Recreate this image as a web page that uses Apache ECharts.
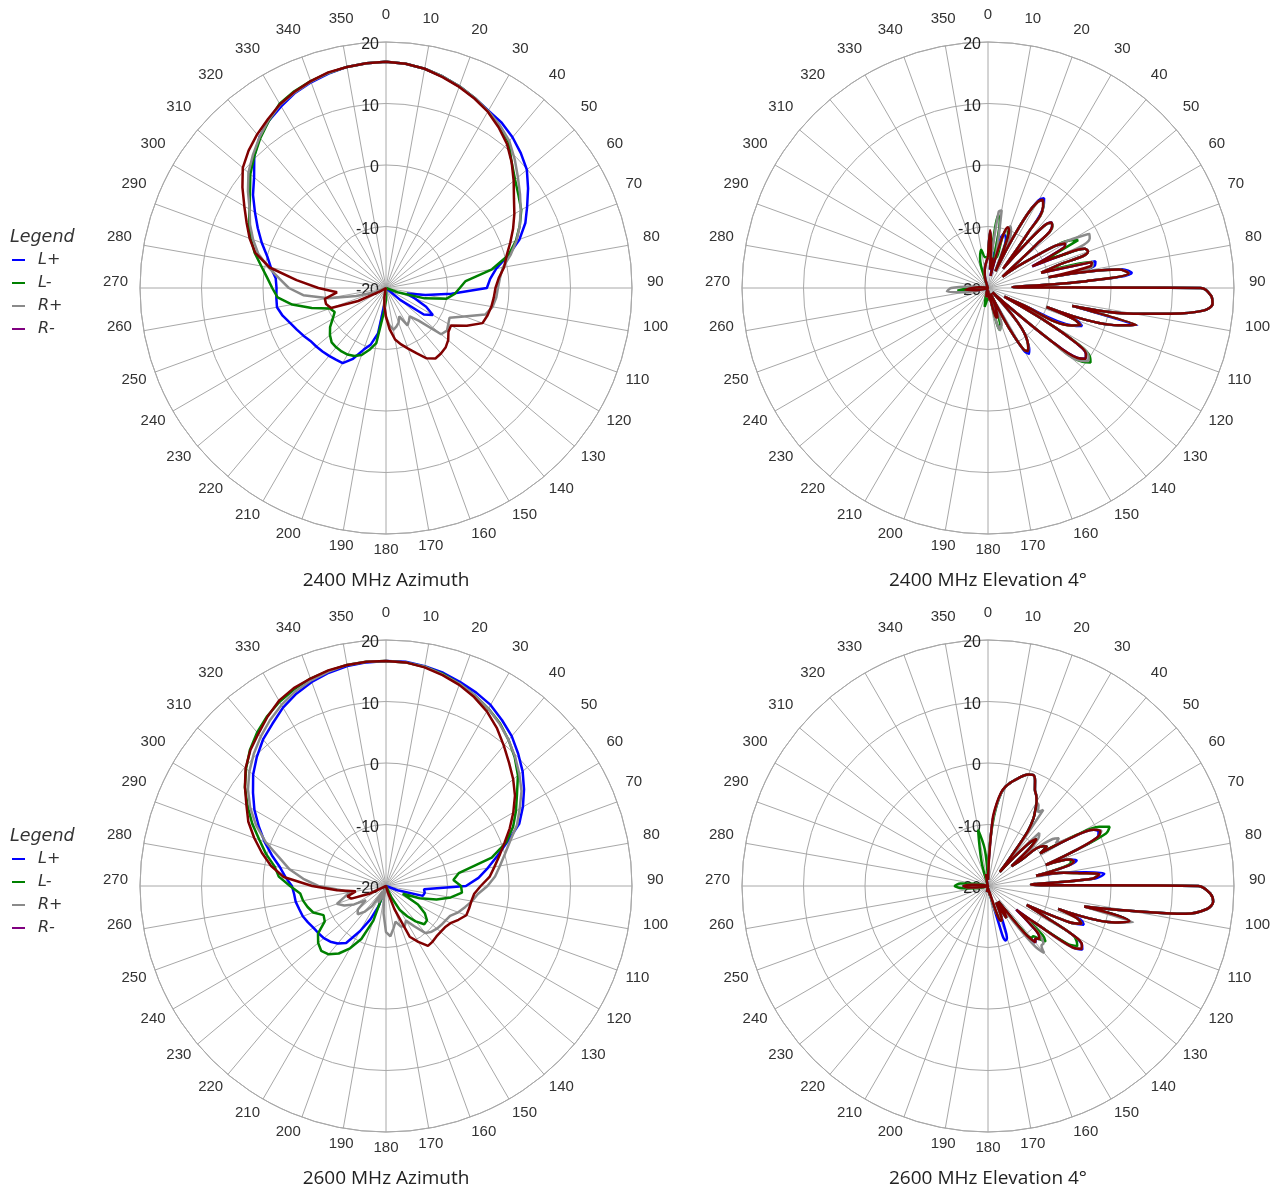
<!DOCTYPE html>
<html>
<head>
<meta charset="utf-8">
<script src="https://cdn.jsdelivr.net/npm/echarts@6/dist/echarts.min.js"></script>
<style>html,body{margin:0;padding:0;background:#fff}#c{width:1284px;height:1191px}</style>
</head>
<body>
<div id="c"></div>
<script>
// ---- series names / titles ----
const seriesNames = ['L+', 'L-', 'R+', 'R-'];
const chartTitles = ['2400 MHz Azimuth', '2400 MHz Elevation 4°', '2600 MHz Azimuth', '2600 MHz Elevation 4°'];
const radiusTicks = [-20, -10, 0, 10, 20];

// ---- angle grids (degrees) ----
const azAngles = [0,5,10,15,20,25,30,35,40,45,50,55,60,65,70,75,80,85,90,95,100,105,110,115,120,125,130,135,140,145,150,155,160,165,170,175,
  180,185,190,195,200,205,210,215,220,225,230,235,240,245,250,255,260,265,270,275,280,285,290,295,300,305,310,315,320,325,330,335,340,345,350,355];

const elAngles = [0,2,4,6,8,10,12,14,16,18,20,22,24,26,28,30,32,34,36,38,40,42,44,46,48,50,52,54,56,58,60,62,64,66,68,70,72,74,76,78,80,82,84,86,88,
  90,92,94,96,98,100,102,104,106,108,110,112,114,116,118,120,122,124,126,128,130,132,134,136,138,140,142,144,146,148,150,152,154,156,158,160,162,164,166,168,170,172,174,176,178,180,
  185,190,195,200,205,210,215,220,225,230,235,240,245,250,255,260,265,270,275,280,285,290,295,300,305,310,315,320,325,330,335,340,345,350,355];

// ---- 2400 MHz Azimuth (dB) ----
const az2400_Lp = [16.8,16.6,16.2,15.6,14.9,14.1,13.3,12.8,12.0,11.0,9.9,8.2,6.5,5.0,3.1,0.6,-1.8,-3.0,-3.6,-9.3,-13.5,-16.5,-15,-12.8,-11.2,-12.5,-17,-20,-20,-20,-20,-20,-20,-20,-20,-20,
  -19,-17.5,-12.5,-10.5,-9.3,-7.3,-5.9,-5.8,-5.6,-5.4,-5.2,-5.0,-4.5,-4.0,-3.4,-2.6,-2.0,-2.1,-2.2,-2.0,-1.0,0.0,1.5,3.0,4.6,6.4,8.0,10.3,12.0,13.2,14.1,15.0,15.6,16.1,16.5,16.7];
const az2400_Lm = [16.8,16.6,16.2,15.6,14.9,14.1,13.2,12.2,11.0,8.9,7.4,6.3,5.4,4.0,2.5,0.6,-2.5,-7.0,-8.0,-8.8,-10.0,-13.5,-18,-20,-20,-20,-20,-20,-20,-20,-20,-20,-20,-20,-20,-20,
  -18,-16,-10.9,-9.6,-8.4,-7.8,-7.5,-7.4,-7.4,-7.5,-8.1,-8.9,-10.0,-10.8,-10.3,-7.5,-4.5,-2.3,-1.5,-0.6,0.6,2.1,3.4,4.6,5.6,7.0,8.8,10.3,11.8,13.2,14.6,15.3,15.8,16.2,16.5,16.7];
const az2400_Rp = [16.8,16.6,16.2,15.6,14.9,14.1,13.2,12.3,11.2,9.6,8.0,6.6,5.3,4.0,2.6,1.0,-0.7,-1.4,-1.8,-2.0,-2.4,-3.3,-6.5,-8.6,-8.3,-7.9,-8.3,-12.5,-14,-13.5,-13,-14.9,-14,-13.5,-13.1,-14,
  -15.3,-17,-19,-20,-20,-20,-20,-20,-20,-20,-20,-20,-20,-20,-18,-15,-10.5,-6.5,-4.2,-2.6,-0.6,1.5,3.0,4.4,5.6,7.4,9.2,10.6,12.0,13.3,14.4,15.1,15.7,16.2,16.5,16.7];
const az2400_Rm = [16.8,16.6,16.2,15.5,14.8,14.0,13.1,11.9,10.6,8.9,7.1,5.4,4.1,2.8,1.5,0.3,-0.5,-1.6,-2.2,-2.4,-2.6,-2.9,-3.3,-5.5,-7.8,-7.6,-6.8,-6.3,-6.1,-6.0,-6.8,-8.3,-9.5,-10.5,-11.5,-13.3,
  -15.3,-17,-18.5,-19.5,-20,-20,-20,-20,-20,-20,-20,-20,-19,-15,-10.5,-9.9,-9.9,-12,-9,-5.4,-0.8,2.0,3.6,5.0,6.6,8.5,10.4,11.6,12.6,13.5,14.5,15.2,15.8,16.3,16.5,16.7];

// ---- 2600 MHz Azimuth (dB) ----
const az2600_Lp = [16.6,16.6,16.3,15.9,15.3,14.7,14.0,12.9,11.8,10.4,9.0,7.4,5.7,3.9,1.0,-1.3,-3.2,-4.9,-7.0,-13.8,-13.6,-13.8,-18,-20,-20,-20,-20,-20,-20,-20,-20,-20,-20,-20,-20,-20,
  -20,-20,-20,-20,-16.5,-14,-11.5,-8.7,-7.8,-7.2,-6.8,-6.6,-6.4,-6.0,-5.6,-5.4,-5.1,-5.0,-4.7,-3.6,-2.5,-0.8,1.0,2.8,4.7,6.4,8.2,9.7,11.1,12.2,13.5,14.5,15.3,15.9,16.3,16.5];
const az2600_Lm = [16.6,16.5,16.2,15.7,15.0,14.2,13.3,12.3,11.0,9.6,8.0,6.0,4.4,2.8,0.8,-2.2,-8.0,-9.0,-7.8,-7.6,-9.3,-11.5,-14.2,-17,-14,-12.3,-11.3,-11.2,-12.5,-14,-15.5,-18,-20,-20,-20,-20,
  -20,-20,-20,-20,-14,-10.5,-8.3,-6.6,-5.5,-5.1,-5.6,-6.5,-8.5,-8.8,-7.4,-6.8,-6.3,-6.0,-4.4,-2.5,-1.6,0.2,1.9,4.0,6.0,8.0,9.7,11.3,12.6,13.7,14.6,15.3,15.9,16.2,16.5,16.6];
const az2600_Rp = [16.6,16.5,16.2,15.6,15.0,14.2,13.3,12.2,11.0,9.7,8.3,6.9,5.1,3.5,1.5,0.0,-1.2,-2.2,-3.5,-5.0,-5.8,-6.7,-7.5,-8.5,-8.8,-9.0,-9.2,-9.5,-10,-12,-13.5,-12.8,-13,-14,-13,-11.8,
  -12.5,-15.5,-18,-20,-18,-17,-19,-16,-14.5,-13.5,-14,-16,-14,-12.5,-11.5,-13,-14,-12.5,-9,-6.5,-4,-2.0,0.8,3.3,5.5,7.4,9.0,10.4,11.7,12.9,14.0,14.9,15.6,16.1,16.5,16.6];
const az2600_Rm = [16.6,16.5,16.1,15.5,14.8,13.9,12.8,11.4,9.8,8.3,7.0,5.6,3.9,2.2,0.5,-0.9,-2.1,-3.1,-4.6,-5.6,-5.9,-6.0,-6.1,-7.0,-7.9,-8.3,-8.4,-8.4,-8.2,-8.1,-9.5,-10.9,-16,-19,-20,-20,
  -20,-20,-20,-20,-20,-20,-20,-20,-20,-20,-20,-20,-20,-17,-14,-13.5,-15,-12,-8,-3.3,-1.0,0.9,2.8,4.7,6.2,8.0,9.8,11.2,12.3,13.6,14.8,15.5,15.9,16.3,16.5,16.6];

// ---- 2400 MHz Elevation 4° (dB) ----
const el2400_Lp = [-15,-10.8,-13,-17,-14,-16,-18,-15,-11,-11,-11.5,-13,-17,-12,-6.5,-3.5,-2.8,-3.8,-9,-16,-12,-6.5,-5.2,-5.5,-9,-15,-17,-14,-11,-7,-5.5,-6,-12,-7,-3,-2.7,-8,-11,-2.0,-2.2,-10,2,3.5,-4,-16,
  14.6,16.3,16.6,15.2,10,4,-6,5,2,-10,-4.7,-3.5,-5,-14,-17,-9,-3,-0.8,-0.4,-1.5,-7,-16,-19,-17,-14,-11.5,-10,-9,-8,-7.4,-8.2,-12,-17,-19,-17,-16,-15.5,-15.5,-16,-18,-19,-18,-19,-19.5,-19.5,-19,
  -19,-18.5,-19,-19.5,-20,-20,-20,-20,-20,-20,-20,-20,-20,-20,-19.5,-18,-16.5,-17.5,-18.5,-19.5,-20,-20,-20,-20,-20,-20,-20,-20,-20,-20,-20,-19.5,-18,-17,-16];
const el2400_Lm = [-15,-11,-13,-16,-8,-9,-15,-15,-11,-10,-10.5,-13,-17,-12,-6.5,-3.8,-3.2,-3.9,-9,-16,-12,-6.5,-5.3,-5.4,-9,-15,-17,-14,-11,-7,-4.5,-3.4,-10,-7,-3,-2.7,-8,-11,-2.6,-2.6,-10,1.5,3,-4,-16,
  14.6,16.3,16.6,15.2,10,4,-6,4.8,2,-10,-5,-3.8,-5,-14,-17,-9,-2.5,0,0.6,-0.5,-7,-16,-19,-17,-14,-11.5,-10,-9,-8.3,-7.9,-8.5,-12,-17,-19,-17,-15,-13.5,-12.9,-14,-18,-19,-18,-19,-19.5,-19.5,-19,
  -18,-16.9,-18.5,-19.5,-20,-20,-20,-20,-20,-20,-20,-20,-20,-20,-19.5,-18,-15,-17,-18.5,-19.5,-20,-20,-20,-20,-20,-20,-20,-20,-20,-20,-20,-19,-15,-13.7,-15];
const el2400_Rp = [-15,-11,-13,-16,-7.5,-7.2,-12,-15,-11,-10,-9.3,-10,-17,-12,-6.5,-3.8,-3.2,-3.9,-9,-16,-12,-6.5,-5.3,-5.4,-9,-15,-17,-14,-11,-7,-4,-1.3,-1.6,-6,-3,-2.7,-8,-11,-2.5,-2.6,-10,1.5,3,-4,-16,
  14.6,16.3,16.6,15.2,10,4,-6,4.8,2,-10,-5,-3.8,-5,-14,-17,-9,-2.8,-0.3,0.2,-0.8,-7,-16,-19,-17,-14,-11.5,-10,-9,-8.3,-7.9,-8.5,-12,-17,-19,-17,-13.5,-13.5,-12.9,-14,-18,-19,-18,-19,-19.5,-19.5,-19,
  -19,-18.5,-19,-19.5,-20,-20,-20,-20,-20,-20,-20,-20,-20,-20,-19,-16,-13.3,-14,-17,-19.5,-20,-20,-20,-20,-20,-20,-20,-20,-20,-20,-20,-19.5,-18,-17,-16];
const el2400_Rm = [-15,-10.6,-13,-17,-15,-16,-18,-15,-11,-9.6,-10,-13,-17,-12,-6.5,-3.8,-3.1,-4,-9,-16,-12,-6.5,-5.2,-5.5,-9,-15,-17,-14,-11,-7,-5.5,-6,-12,-7,-3,-2.7,-8,-11,-2.6,-3,-10,1.5,3,-4,-16,
  14.6,16.3,16.6,15.2,10,4,-6,4.8,2,-10,-5,-3.8,-5,-14,-17,-9,-3,-0.8,-0.4,-1.5,-7,-16,-19,-17,-14,-11.5,-10,-9,-8.3,-7.9,-8.5,-12,-17,-19,-17,-16,-15,-15,-16,-18,-19,-18,-19,-19.5,-19.5,-19,
  -19,-18.5,-19,-19.5,-20,-20,-20,-20,-20,-20,-20,-20,-20,-20,-19.5,-18,-16.3,-17.5,-18.5,-19.5,-20,-20,-20,-20,-20,-20,-20,-20,-20,-20,-20,-19.5,-18,-17,-16];

// ---- 2600 MHz Elevation 4° (dB) ----
const el2600_Lp = [-19,-15,-9.5,-6.8,-4.8,-3.6,-2.9,-2.3,-1.7,-1.1,-0.7,-0.5,-1.2,-2.6,-3.3,-4.2,-5.5,-6.8,-9,-14,-17,-14,-10,-9,-11,-15,-13,-9,-8.5,-10,-4,-0.5,0,-0.5,-5,-10,-6,-5,-7,-12,-7.5,-4,-1,-2.5,-13,
  14.2,16.2,16.7,15.8,12.5,3,-4,3.7,1.5,-8,-4,-3.2,-5.5,-13,-10,-4,-2,-1.5,-3,-10,-14,-11,-8.5,-8,-8.5,-8,-10,-15,-17,-15,-14,-16,-17,-15,-13,-11,-10.7,-14,-18,-18.5,-19,-19.5,-19.5,-19.5,-19.5,-19.5,
  -19.5,-19,-20,-20,-20,-20,-20,-20,-20,-20,-20,-20,-20,-20,-20,-19,-17,-16,-17.5,-19,-20,-20,-20,-20,-20,-20,-20,-20,-20,-20,-20,-20,-19.5,-18,-19];
const el2600_Lm = [-19,-14,-10.3,-7,-4.8,-3.6,-2.9,-2.3,-1.7,-1.1,-0.7,-0.5,-1.2,-2.6,-3.3,-4.2,-5.5,-6.8,-9,-14,-17,-14,-10,-9,-11,-15,-13,-9,-8.5,-10,-3.5,0.5,2,1,-5,-10,-6,-6,-7.5,-12,-7.5,-5,-2,-3,-13,
  14.2,16.2,16.7,15.8,12.5,3,-4,3.7,1.5,-8,-4.5,-3.6,-5.5,-13,-10,-4,-3,-2.5,-4,-10,-13,-8,-7,-8,-9,-9,-11,-15,-17,-15,-14,-16,-17,-15,-14,-14,-15,-16,-18,-18.5,-19,-19.5,-19.5,-19.5,-19.5,-19.5,
  -19.5,-19,-20,-20,-20,-20,-20,-20,-20,-20,-20,-20,-20,-20,-20,-18,-16,-14.6,-15.5,-18,-20,-20,-20,-20,-20,-20,-20,-20,-20,-20,-20,-20,-16,-10.7,-14];
const el2600_Rp = [-19,-15,-9.5,-6.8,-4.8,-3.6,-2.9,-2.3,-1.7,-1.1,-0.7,-0.5,-1.2,-2.6,-3.3,-4.2,-4.5,-5.5,-4.7,-12,-16,-13,-8,-8.5,-10,-13,-10,-7,-6.1,-7,-4,-0.5,0.5,-0.5,-5,-10,-6,-5.5,-7,-12,-7.5,-5,-2,-3,-13,
  14.2,16.2,16.7,15.8,12.5,3,-4,4.3,1.5,-8,-4.5,-3.6,-5.5,-13,-10,-4,-2,-1.8,-3,-10,-13,-10,-8,-7,-7,-5.8,-7.5,-12,-16,-15,-14,-16,-17,-15,-14,-14,-15,-16,-18,-18.5,-19,-19.5,-19.5,-19.5,-19.5,-19.5,
  -19.5,-19,-20,-20,-20,-20,-20,-20,-20,-20,-20,-20,-20,-20,-20,-19,-17,-16,-17.5,-19,-20,-20,-20,-20,-20,-20,-20,-20,-20,-20,-20,-20,-19.5,-18,-19];
const el2600_Rm = [-19,-16,-9,-6.5,-4.6,-3.6,-2.9,-2.3,-1.7,-1.1,-0.7,-0.5,-1.2,-2.6,-3.3,-4.2,-5.5,-6.8,-9,-14,-17,-14,-10,-9,-11,-15,-13,-9,-8.5,-10,-4,-0.5,0.3,-0.5,-5,-10,-6,-5.5,-7,-12,-7.5,-5,-1.8,-3,-13,
  14.2,16.2,16.7,15.8,12.5,3,-4,3.7,1.5,-8,-4.5,-3.6,-5.5,-13,-10,-4,-2,-1.7,-3,-10,-14,-11,-8.5,-8,-8.5,-8,-10,-15,-17,-15,-14,-16,-17,-15,-14,-14,-15,-18,-19,-18.5,-19,-19.5,-19.5,-19.5,-19.5,-19.5,
  -19.5,-19,-20,-20,-20,-20,-20,-20,-20,-20,-20,-20,-20,-20,-20,-19,-17,-16,-17.5,-19,-20,-20,-20,-20,-20,-20,-20,-20,-20,-20,-20,-20,-19.5,-18,-19];

// ---- assembly ----
const lineColors = ['#0000ff', '#008000', '#8a8a8a', '#800000'];
const legendColors = ['#0000ff', '#008000', '#8a8a8a', '#800080'];
const panels = [
  { angles: azAngles, values: [az2400_Lp, az2400_Lm, az2400_Rp, az2400_Rm], center: [386, 288], smooth: false },
  { angles: elAngles, values: [el2400_Lp, el2400_Lm, el2400_Rp, el2400_Rm], center: [988, 288], smooth: 0.35 },
  { angles: azAngles, values: [az2600_Lp, az2600_Lm, az2600_Rp, az2600_Rm], center: [386, 886], smooth: false },
  { angles: elAngles, values: [el2600_Lp, el2600_Lm, el2600_Rp, el2600_Rm], center: [988, 886], smooth: 0.35 }
];
const gridColor = '#a8a8a8';
const legendTextStyle = { fontFamily: 'DejaVu Sans', fontStyle: 'italic', fontWeight: 'normal', fontSize: 17.5, color: '#333' };
const angleFont = { fontSize: 15, fontFamily: 'Liberation Sans', color: '#333' };
const rightSideMid = [80, 90, 100];
const leftSideMid = [260, 270, 280];

const option = {
  animation: false,
  backgroundColor: '#ffffff',
  title: [
    ...panels.map((p, i) => ({
      text: chartTitles[i], left: p.center[0], top: p.center[1] + 283, textAlign: 'center', padding: 0,
      textStyle: { fontFamily: 'Open Sans', fontWeight: 'normal', fontSize: 19, color: '#222' }
    })),
    { text: 'Legend', left: 10, top: 228, padding: 0, textStyle: legendTextStyle },
    { text: 'Legend', left: 10, top: 827, padding: 0, textStyle: legendTextStyle }
  ],
  legend: [252, 851].map(t => ({
    data: seriesNames, orient: 'vertical', left: 12, top: t, padding: 0,
    itemWidth: 13, itemHeight: 2, itemGap: 7, icon: 'rect', selectedMode: false,
    textStyle: { fontFamily: 'DejaVu Sans', fontStyle: 'italic', fontSize: 16, lineHeight: 16, color: '#333', padding: [0, 0, 0, 8] }
  })),
  polar: panels.map(p => ({ center: p.center, radius: 246 })),
  angleAxis: panels.map((p, i) => ({
    polarIndex: i, type: 'value', min: 0, max: 360, interval: 10, startAngle: 90, clockwise: true,
    axisLine: { show: true, lineStyle: { color: gridColor, width: 1 } },
    axisTick: { show: false },
    axisLabel: {
      margin: 12, padding: [-4, -3, 8, -3], ...angleFont,
      formatter: v => rightSideMid.includes(v) ? '{mr|' + v + '}' : leftSideMid.includes(v) ? '{ml|' + v + '}' : '{n|' + v + '}',
      rich: {
        n: { ...angleFont },
        mr: { ...angleFont, padding: [0, 0, 0, 6] },
        ml: { ...angleFont, padding: [0, 3, 0, 0] }
      }
    },
    splitLine: { show: true, lineStyle: { color: gridColor, width: 1 } }
  })),
  radiusAxis: panels.map((p, i) => ({
    polarIndex: i, type: 'value', min: radiusTicks[0], max: radiusTicks[radiusTicks.length - 1], interval: 10,
    axisLine: { show: false }, axisTick: { show: false },
    axisLabel: {
      color: '#222', fontSize: 16, fontFamily: 'Liberation Sans', margin: 7,
      formatter: v => '{r|' + v + '}',
      rich: { r: { color: '#222', fontSize: 16, fontFamily: 'Liberation Sans', padding: [6, 0, 0, 0] } }
    },
    splitLine: { show: true, lineStyle: { color: gridColor, width: 1 } }
  })),
  series: []
};

panels.forEach((p, pi) => {
  p.values.forEach((vals, si) => {
    const data = p.angles.map((a, k) => [vals[k], a]);
    data.push([vals[0], 360]);
    option.series.push({
      name: seriesNames[si], type: 'line', coordinateSystem: 'polar', polarIndex: pi,
      data: data, showSymbol: false, symbol: 'none', smooth: p.smooth,
      itemStyle: { color: legendColors[si] },
      lineStyle: { color: lineColors[si], width: 2.5 },
      z: 2 + si
    });
  });
});

const chart = echarts.init(document.getElementById('c'), null, { renderer: 'canvas' });
chart.setOption(option);
</script>
</body>
</html>
